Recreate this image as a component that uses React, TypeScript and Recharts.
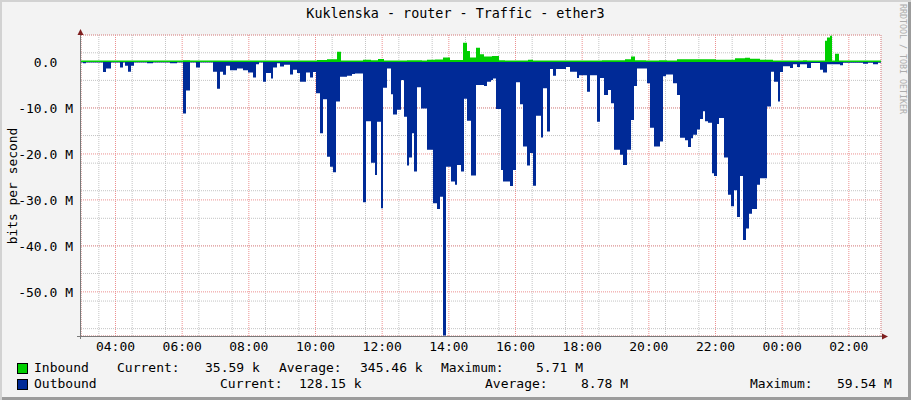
import { ComposedChart, Area, XAxis, YAxis, CartesianGrid } from 'recharts'

// time axis in hours (day 1 midnight = 0), 24h window
const START = 2.965
const END = 26.965

// outbound traffic, Mbit/s, step start times
const outTimes = [
  2.965, 3.025, 3.115, 3.625, 3.715, 3.865, 4.135, 4.225, 4.285, 4.375, 4.465, 4.555, 4.945,
  5.125, 5.635, 5.845, 6.025, 6.115, 6.235, 6.415, 6.535, 6.925,
  7.045, 7.135, 7.225, 7.315, 7.435, 7.645, 7.825, 7.975, 8.125, 8.215, 8.305, 8.425, 8.515, 8.665, 8.725, 8.845, 8.935,
  9.055, 9.235, 9.325, 9.445, 9.535, 9.715, 9.835, 9.925, 10.015, 10.135, 10.225, 10.345, 10.435, 10.525, 10.615, 10.735, 10.945,
  11.095, 11.185, 11.425, 11.515, 11.665, 11.785, 11.845, 11.965, 12.025, 12.145, 12.265, 12.325, 12.445, 12.565, 12.655, 12.745, 12.805, 12.895, 12.955,
  13.045, 13.165, 13.345, 13.525, 13.645, 13.735, 13.825, 13.915, 14.065, 14.185, 14.245, 14.365, 14.455, 14.545, 14.665, 14.815,
  15.055, 15.145, 15.265, 15.325, 15.415, 15.565, 15.625, 15.835, 15.925, 16.015, 16.135, 16.225, 16.345, 16.435, 16.525, 16.615, 16.765, 16.825, 16.945,
  17.035, 17.125, 17.215, 17.515, 17.635, 17.845, 17.905, 18.145, 18.235, 18.445, 18.535, 18.655, 18.775, 18.865, 18.955,
  19.135, 19.225, 19.345, 19.465, 19.555, 19.645, 19.945, 20.035, 20.155, 20.335, 20.425, 20.515, 20.725, 20.845, 20.935,
  21.085, 21.175, 21.265, 21.325, 21.445, 21.535, 21.625, 21.685, 21.775, 21.895, 21.955,
  22.045, 22.105, 22.255, 22.375, 22.465, 22.555, 22.645, 22.735, 22.825, 22.915, 23.005, 23.095, 23.245, 23.335, 23.545, 23.665, 23.755, 23.875, 23.935,
  24.025, 24.235, 24.325, 24.445, 24.535, 24.745, 24.865, 25.135, 25.225, 25.345, 25.735, 25.825, 26.425, 26.575, 26.725, 26.875
]
const outMbps = [
  0.1, 0.3, 0.1, 2.2, 1.4, 0.1, 1.2, 0.1, 0.8, 2.1, 0.8, 0.1, 0.3,
  0.1, 0.3, 0.1, 11.2, 6.2, 0.1, 1.2, 0.1, 2.1,
  5.8, 2.1, 2.8, 0.8, 1.8, 1.4, 1.8, 2.3, 3.4, 0.5, 0.1, 4.3, 2.4, 3.6, 1.2, 0.3, 1.0,
  0.6, 2.7, 1.7, 2.4, 4.3, 2.3, 3.4, 2.2, 6.8, 15.5, 8.1, 20.6, 22.8, 24.0, 8.6, 3.2, 3.0,
  2.6, 2.5, 30.5, 12.9, 21.9, 24.6, 13.0, 31.8, 5.6, 1.4, 7.0, 11.4, 10.4, 3.9, 11.9, 22.5, 20.8, 15.5, 23.8,
  5.5, 10.1, 19.1, 30.7, 32.0, 29.3, 59.5, 22.8, 26.0, 26.7, 22.4, 23.8, 8.0, 12.8, 24.7, 5.0,
  5.2, 4.3, 3.9, 3.6, 10.2, 23.5, 26.0, 27.0, 23.5, 4.4, 9.2, 18.4, 22.5, 19.8, 26.9, 11.7, 16.4, 5.7, 15.1,
  1.5, 3.0, 1.5, 1.1, 2.1, 3.5, 2.9, 6.5, 2.9, 13.0, 3.5, 7.2, 6.1, 9.0, 19.1,
  20.2, 22.4, 19.1, 12.6, 5.2, 1.4, 4.6, 14.3, 18.4, 17.3, 3.1, 2.7, 4.6, 7.2, 16.5,
  17.0, 18.5, 16.6, 15.8, 14.7, 12.4, 10.7, 12.9, 13.2, 24.2, 24.8,
  13.5, 12.2, 20.8, 28.9, 31.4, 27.9, 33.7, 24.8, 38.7, 36.2, 33.0, 32.0, 26.7, 25.3, 9.7, 2.1, 4.3, 8.6, 2.2,
  0.9, 1.3, 0.5, 1.1, 0.5, 1.3, 0.2, 1.7, 2.3, 0.5, 0.7, 0.15, 0.4, 0.15, 0.5, 0.15
]

// inbound traffic, Mbit/s, step start times
const inTimes = [
  2.965, 6.025, 6.235, 10.045, 10.345, 10.645, 10.765, 11.425, 11.665, 11.875, 12.055, 12.745, 13.195, 13.345, 13.585, 13.825, 14.035,
  14.425, 14.545, 14.635, 14.815, 14.935, 15.055, 15.295, 15.505, 15.685, 16.375, 16.525, 18.595, 19.285, 19.465, 19.585, 19.915,
  20.305, 20.545, 20.845, 22.015, 22.585, 22.885, 23.035, 23.335, 23.725, 24.625, 24.745, 25.285, 25.345, 25.435, 25.495, 25.585, 25.705
]
const inMbps = [
  0.3, 0.4, 0.3, 0.45, 0.6, 2.2, 0.3, 0.5, 0.4, 0.65, 0.35, 0.4, 0.3, 0.5, 0.55, 0.95, 0.45,
  4.2, 2.4, 1.0, 3.1, 1.7, 1.2, 1.3, 0.4, 0.35, 0.5, 0.35, 0.4, 0.6, 1.2, 0.4, 0.3,
  0.4, 0.3, 0.6, 0.5, 0.8, 0.9, 0.7, 0.5, 0.3, 0.4, 0.3, 4.6, 5.3, 5.7, 0.3, 1.8, 0.3
]

const hourTicks = [4, 6, 8, 10, 12, 14, 16, 18, 20, 22, 24, 26]
const valueTicks = [0, -10, -20, -30, -40, -50]
const minorHourTicks = Array.from({ length: 48 }, (_, i) => 3 + i * 0.5)
const minorValueTicks = Array.from({ length: 32 }, (_, i) => 4 - i * 2)

const inboundStats = ['35.59 k', '345.46 k', '5.71 M']
const outboundStats = ['128.15 k', '8.78 M', '59.54 M']

const FONT = "'DejaVu Sans Mono', monospace"
const GREEN = '#00CF00'
const BLUE = '#002A97'

function stepAt(times: number[], values: number[], t: number) {
  let v = values[0]
  for (let i = 0; i < times.length; i++) {
    if (times[i] <= t) v = values[i]
  }
  return v
}

const allTimes = Array.from(new Set([...outTimes, ...inTimes, END])).sort((a, b) => a - b)
const data = allTimes.map(t => ({
  t,
  inbound: stepAt(inTimes, inMbps, t),
  outbound: -stepAt(outTimes, outMbps, t)
}))

const fmtHour = (h: number) => `${String(h % 24).padStart(2, '0')}:00`
const fmtValue = (v: number) => (v === 0 ? '0.0\u00a0\u00a0' : `${v.toFixed(1)} M`)

const XTick = ({ x, y, payload }: any) => (
  <text x={x} y={y} dy="0.71em" textAnchor="middle" fontFamily={FONT} fontSize={13} fill="#000">
    {fmtHour(payload.value)}
  </text>
)

const YTick = ({ x, y, payload }: any) => (
  <text x={x} y={y} dy="0.36em" textAnchor="end" fontFamily={FONT} fontSize={13} fill="#000">
    {fmtValue(payload.value)}
  </text>
)

const text = (left: number, top: number, s: string) => (
  <span style={{ position: 'absolute', left, top, whiteSpace: 'pre' }}>{s}</span>
)

const swatch = (top: number, color: string) => (
  <span
    style={{
      position: 'absolute',
      left: 17,
      top,
      width: 9,
      height: 9,
      background: color,
      border: '1px solid #000'
    }}
  />
)

export default function App() {
  return (
    <div
      style={{
        position: 'absolute',
        left: 0,
        top: 0,
        width: 911,
        height: 400,
        background: '#f3f3f3',
        boxShadow: 'inset 2px 2px 0 #d2d2d2, inset -3px -3px 0 #9c9c9c',
        fontFamily: FONT,
        fontSize: 13,
        lineHeight: '14px',
        color: '#000'
      }}
    >
      <div style={{ position: 'absolute', left: 0, width: 911, top: 7, textAlign: 'center', fontSize: 13.4 }}>
        Kuklenska - router - Traffic - ether3
      </div>

      <div
        style={{
          position: 'absolute',
          left: 12,
          top: 186,
          transform: 'translate(-50%, -50%) rotate(-90deg)',
          whiteSpace: 'nowrap',
          fontSize: 12.9,
          lineHeight: '13px'
        }}
      >
        bits per second
      </div>

      <div
        style={{
          position: 'absolute',
          left: 898,
          top: 4,
          writingMode: 'vertical-rl',
          fontSize: 8.3,
          lineHeight: '10px',
          color: '#acacac',
          whiteSpace: 'nowrap'
        }}
      >
        RRDTOOL / TOBI OETIKER
      </div>

      <div style={{ position: 'absolute', left: 0, top: 0 }}>
        <ComposedChart width={911} height={400} data={data} margin={{ top: 35, right: 30, bottom: 34, left: 21 }}>
          <XAxis xAxisId="minor" dataKey="t" type="number" domain={[START, END]} ticks={minorHourTicks} hide allowDataOverflow />
          <YAxis yAxisId="minor" type="number" domain={[-59.6, 5.87]} ticks={minorValueTicks} hide allowDataOverflow />
          <CartesianGrid
            xAxisId="minor"
            yAxisId="minor"
            fill="#ffffff"
            stroke="#c4c4c4"
            strokeDasharray="1 1"
          />
          <CartesianGrid stroke="#ec9090" strokeDasharray="1 1" />
          <XAxis
            dataKey="t"
            type="number"
            domain={[START, END]}
            ticks={hourTicks}
            allowDataOverflow
            height={30}
            axisLine={false}
            tickLine={false}
            tickSize={4}
            tickMargin={2}
            tick={<XTick />}
          />
          <YAxis
            type="number"
            domain={[-59.6, 5.87]}
            ticks={valueTicks}
            allowDataOverflow
            width={60}
            axisLine={false}
            tickLine={false}
            tickSize={4}
            tickMargin={4}
            tick={<YTick />}
          />
          <Area
            type="stepAfter"
            dataKey="outbound"
            baseValue={0}
            fill={BLUE}
            fillOpacity={1}
            stroke="none"
            dot={false}
            activeDot={false}
            isAnimationActive={false}
          />
          <Area
            type="stepAfter"
            dataKey="inbound"
            baseValue={0}
            fill={GREEN}
            fillOpacity={1}
            stroke="none"
            dot={false}
            activeDot={false}
            isAnimationActive={false}
          />
        </ComposedChart>
      </div>

      <svg width={911} height={400} style={{ position: 'absolute', left: 0, top: 0, pointerEvents: 'none' }}>
        <line x1={80.5} y1={31} x2={80.5} y2={339} stroke="#7a7a7a" />
        <line x1={77} y1={336.5} x2={885} y2={336.5} stroke="#7a7a7a" />
        <polygon points="77.5,35 83.5,35 80.5,29" fill="#7f1f1f" />
        <polygon points="882,333.5 882,339.5 888,336.5" fill="#7f1f1f" />
      </svg>

      {swatch(363, GREEN)}
      {text(34, 361, 'Inbound')}
      {text(117, 361, 'Current:')}
      {text(205, 361, inboundStats[0])}
      {text(279, 361, 'Average:')}
      {text(360, 361, inboundStats[1])}
      {text(441, 361, 'Maximum:')}
      {text(536, 361, inboundStats[2])}

      {swatch(379, BLUE)}
      {text(34, 377, 'Outbound')}
      {text(220, 377, 'Current:')}
      {text(299, 377, outboundStats[0])}
      {text(485, 377, 'Average:')}
      {text(581, 377, outboundStats[1])}
      {text(750, 377, 'Maximum:')}
      {text(837, 377, outboundStats[2])}
    </div>
  )
}
